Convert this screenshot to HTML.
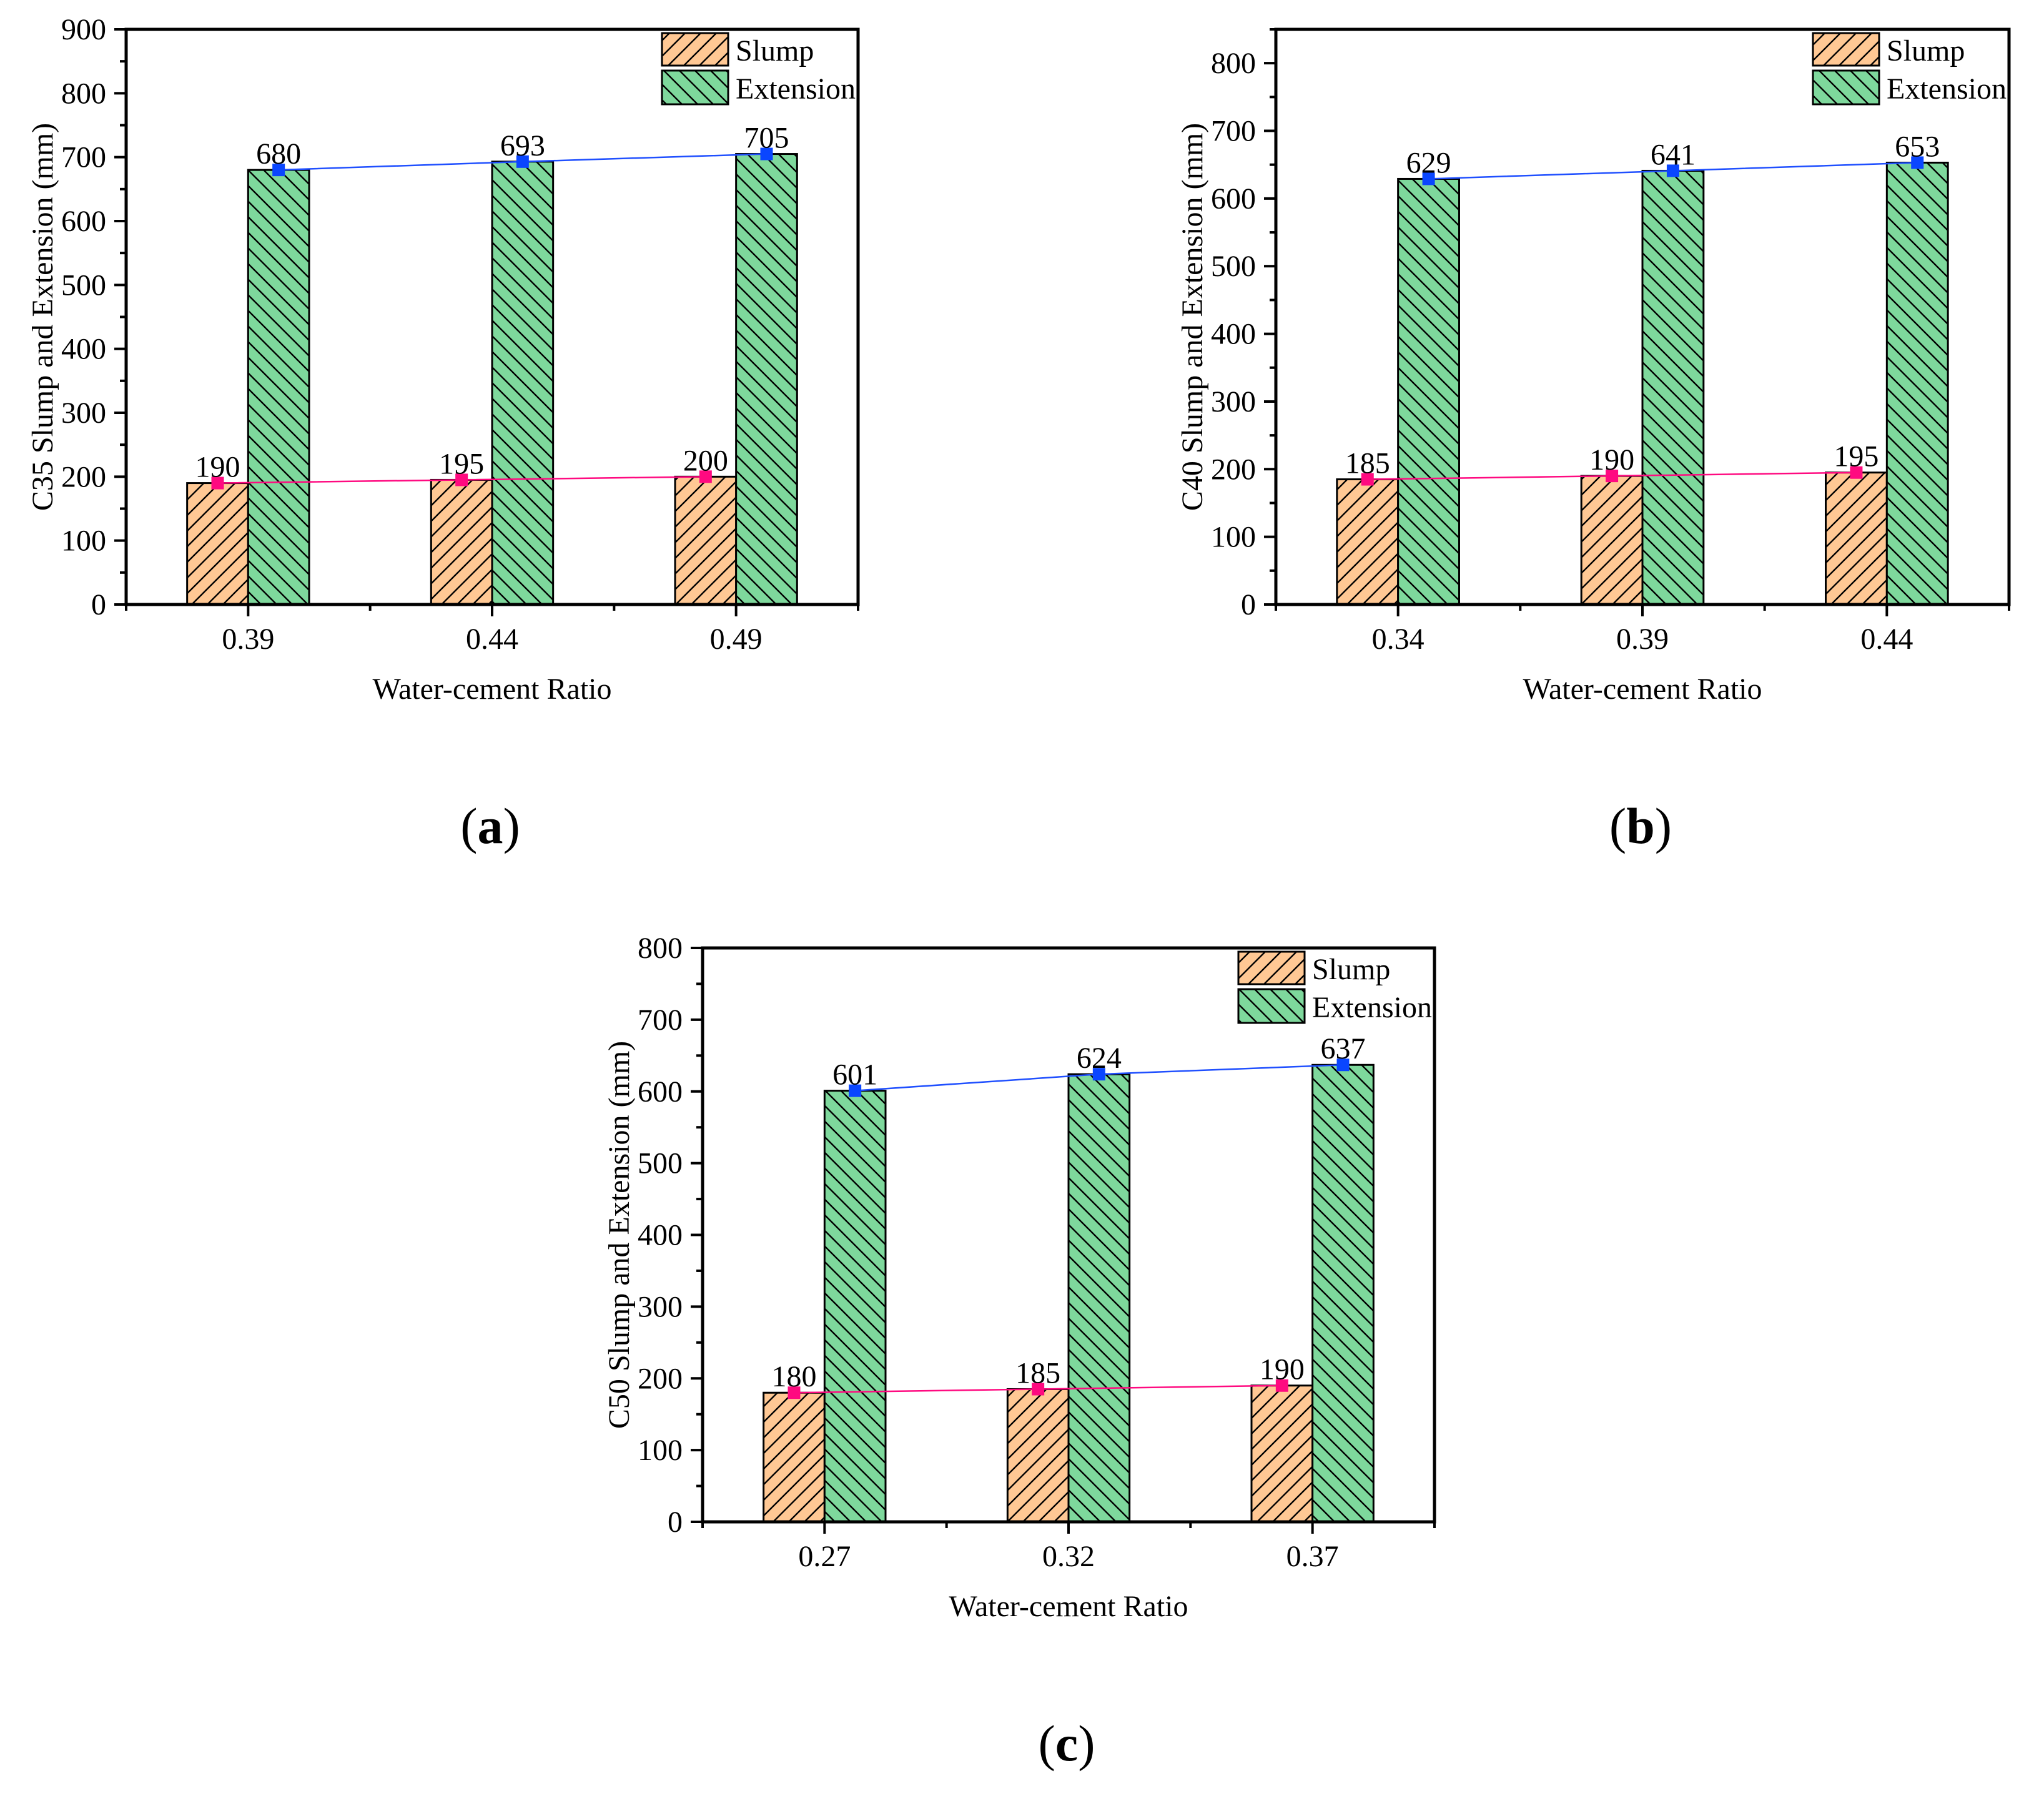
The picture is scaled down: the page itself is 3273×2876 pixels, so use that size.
<!DOCTYPE html>
<html><head><meta charset="utf-8">
<style>
html,body{margin:0;padding:0;background:#fff;}
svg{display:block;font-family:"Liberation Serif",serif;}
</style></head>
<body>
<svg id="fig" width="3273" height="2876" viewBox="0 0 3273 2876" xmlns="http://www.w3.org/2000/svg">
<defs>
<pattern id="hatchSlump" patternUnits="userSpaceOnUse" width="25" height="25">
<rect width="25" height="25" fill="#FFC894"/>
<path d="M-5,5 L5,-5 M0,25 L25,0 M20,30 L30,20" stroke="#000" stroke-width="2.4"/>
</pattern>
<pattern id="hatchExt" patternUnits="userSpaceOnUse" width="25" height="25">
<rect width="25" height="25" fill="#7ED89C"/>
<path d="M-5,20 L5,30 M0,0 L25,25 M20,-5 L30,5" stroke="#000" stroke-width="2.4"/>
</pattern>
</defs>
</svg>
<script>
// Panel (a)
const catsA = ["0.39","0.44","0.49"];
const slumpA = [190,195,200];
const extA = [680,693,705];
const ticksA = [0,100,200,300,400,500,600,700,800,900];
// Panel (b)
const catsB = ["0.34","0.39","0.44"];
const slumpB = [185,190,195];
const extB = [629,641,653];
const ticksB = [0,100,200,300,400,500,600,700,800];
// Panel (c)
const catsC = ["0.27","0.32","0.37"];
const slumpC = [180,185,190];
const extC = [601,624,637];
const ticksC = [0,100,200,300,400,500,600,700,800];

const NS = "http://www.w3.org/2000/svg";
const svg = document.getElementById('fig');
const FS = 48;
function mk(tag, attrs, parent, text){
  const e = document.createElementNS(NS, tag);
  for (const k in attrs) e.setAttribute(k, attrs[k]);
  if (text !== undefined) e.textContent = text;
  (parent || svg).appendChild(e);
  return e;
}

function panel(id, L, R, T, B, yMax, cats, slump, ext, ticks, ytitle, letter){
  const g = mk('g', {});
  
  
  const W = R - L;
  const y = v => B - (v / yMax) * (B - T);
  const gw = W / cats.length;
  const cx = i => L + gw * (i + 0.5);
  const bw = gw * 0.25;

  cats.forEach((c, i) => {
    const sb = mk('rect', {x: cx(i) - bw, y: y(slump[i]), width: bw, height: B - y(slump[i]), fill: 'url(#hatchSlump)', stroke: '#000', 'stroke-width': 3}, g);
    
    
    const eb = mk('rect', {x: cx(i), y: y(ext[i]), width: bw, height: B - y(ext[i]), fill: 'url(#hatchExt)', stroke: '#000', 'stroke-width': 3}, g);
    
    
  });
  const sp = slump.map((v, i) => (cx(i) - bw / 2) + ',' + y(v)).join(' ');
  const ep = ext.map((v, i) => (cx(i) + bw / 2) + ',' + y(v)).join(' ');
  const sl = mk('polyline', {points: sp, fill: 'none', stroke: '#FF0A80', 'stroke-width': 2.5}, g);
  
  
  const el = mk('polyline', {points: ep, fill: 'none', stroke: '#1F4FFF', 'stroke-width': 2.5}, g);
  
  
  cats.forEach((c, i) => {
    const m1 = mk('rect', {x: cx(i) - bw / 2 - 10, y: y(slump[i]) - 10, width: 20, height: 20, fill: '#FF0A80'}, g);
    
    
    const m2 = mk('rect', {x: cx(i) + bw / 2 - 10, y: y(ext[i]) - 10, width: 20, height: 20, fill: '#0A46FF'}, g);
    
    
    const t1 = mk('text', {x: cx(i) - bw / 2, y: y(slump[i]) - 10, 'font-size': FS, 'text-anchor': 'middle'}, g, String(slump[i]));
    
    
    const t2 = mk('text', {x: cx(i) + bw / 2, y: y(ext[i]) - 10, 'font-size': FS, 'text-anchor': 'middle'}, g, String(ext[i]));
    
    
  });

  const fr = mk('rect', {x: L, y: T, width: W, height: B - T, fill: 'none', stroke: '#000', 'stroke-width': 5}, g);
  
  
  ticks.forEach((t, k) => {
    mk('line', {x1: L - 19, x2: L, y1: y(t), y2: y(t), stroke: '#000', 'stroke-width': 4}, g);
    const lb = mk('text', {x: L - 32, y: y(t) + 16, 'font-size': FS, 'text-anchor': 'end'}, g, String(t));
    
    
    if (t + 50 <= yMax) mk('line', {x1: L - 10, x2: L, y1: y(t + 50), y2: y(t + 50), stroke: '#000', 'stroke-width': 4}, g);
  });
  for (let k = 0; k <= cats.length; k++) {
    mk('line', {x1: L + gw * k, x2: L + gw * k, y1: B, y2: B + 10, stroke: '#000', 'stroke-width': 4}, g);
  }
  cats.forEach((c, i) => {
    mk('line', {x1: cx(i), x2: cx(i), y1: B, y2: B + 19, stroke: '#000', 'stroke-width': 4}, g);
    const lb = mk('text', {x: cx(i), y: B + 71, 'font-size': FS, 'text-anchor': 'middle'}, g, c);
    
    
  });
  const xt = mk('text', {x: (L + R) / 2, y: B + 151, 'font-size': FS, 'text-anchor': 'middle'}, g, 'Water-cement Ratio');
  
  
  const yt = mk('text', {x: 0, y: 0, 'font-size': FS, 'text-anchor': 'middle', transform: 'translate(' + (L - 118) + ',' + ((T + B) / 2) + ') rotate(-90)'}, g, ytitle);
  
  

  const lx = R - 314;
  const ls = mk('rect', {x: lx, y: T + 6, width: 106, height: 52, fill: 'url(#hatchSlump)', stroke: '#000', 'stroke-width': 3}, g);
  
  
  const le = mk('rect', {x: lx, y: T + 66, width: 106, height: 54, fill: 'url(#hatchExt)', stroke: '#000', 'stroke-width': 3}, g);
  
  
  const t1 = mk('text', {x: lx + 118, y: T + 50, 'font-size': FS}, g, 'Slump');
  
  
  const t2 = mk('text', {x: lx + 118, y: T + 111, 'font-size': FS}, g, 'Extension');
  
  

  const pl = mk('text', {x: (L + R) / 2 - 3, y: B + 382, 'font-size': 82, 'text-anchor': 'middle'}, g);
  
  
  mk('tspan', {}, pl, '(');
  mk('tspan', {'font-weight': 'bold'}, pl, letter);
  mk('tspan', {}, pl, ')');
}

panel('a', 202, 1374, 47, 968, 900, catsA, slumpA, extA, ticksA, 'C35 Slump and Extension (mm)', 'a');
panel('b', 2043, 3217, 47, 968, 850, catsB, slumpB, extB, ticksB, 'C40 Slump and Extension (mm)', 'b');
panel('c', 1125, 2297, 1518, 2437, 800, catsC, slumpC, extC, ticksC, 'C50 Slump and Extension (mm)', 'c');
</script>
</body></html>
